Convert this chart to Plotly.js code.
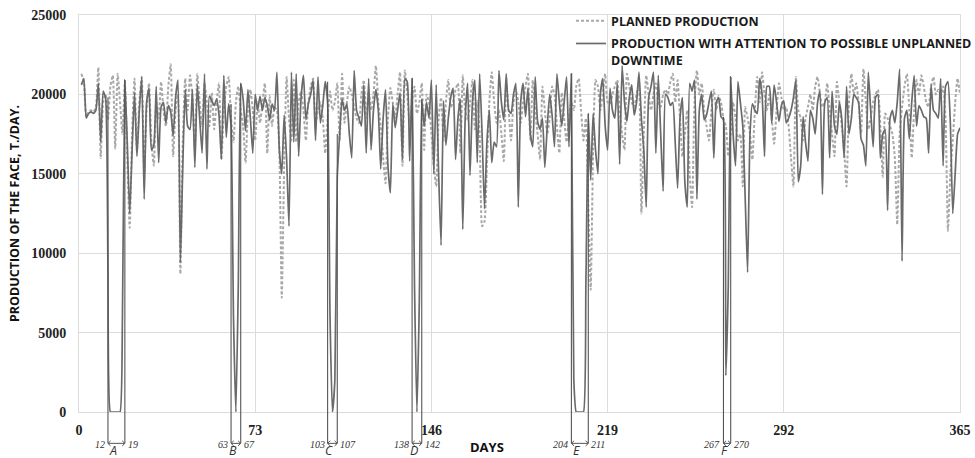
<!DOCTYPE html>
<html><head><meta charset="utf-8">
<script src="https://cdn.plot.ly/plotly-3.0.1.min.js"></script>
<style>html,body{margin:0;padding:0;background:#fff}#chart{width:975px;height:458px}</style>
</head><body><div id="chart"></div>
<script>
// Planned production, t/day, days 1..365
const plannedProduction = [
21300,20800,18600,18900,19000,18900,19200,21700,16000,19500,
20000,18400,20500,21200,16600,21300,19500,17500,20800,16000,
11600,17500,21000,16300,19500,21100,15000,19000,20700,17000,
15500,19500,18500,20800,19000,18000,20500,21900,16100,19000,
20000,8700,17000,21000,19000,21200,19800,16500,21300,19500,
18000,20700,19500,18000,20100,17800,19500,20700,15900,19000,
20500,21100,18500,17000,19500,20500,19000,18000,15700,19000,
20300,19000,17100,19500,18200,19500,20700,16300,19900,18000,
19200,19000,16500,7200,15500,21100,18500,17100,20900,17000,
19500,20200,19000,17100,19500,20500,21000,18200,19000,19500,
18500,16300,18500,20200,19000,19500,20700,17100,21300,18200,
19500,20500,20000,19200,18500,18200,20000,20900,18500,20200,
19000,20000,21800,19500,18000,16000,14400,18500,20400,19500,
18500,20000,21400,15500,21500,20000,18200,19500,20500,18800,
19500,20700,16500,20000,19500,17500,15500,14200,18500,19800,
17100,19500,20900,19200,19500,20300,20700,16300,21200,19000,
18400,19500,20900,17800,19600,17500,11700,12000,15500,19500,
21400,19500,18200,19000,17500,15800,20700,19000,17100,19500,
20300,19500,18200,19500,20500,21300,17100,20900,19000,17500,
15900,20500,19000,17500,18500,20500,20000,18000,16300,20100,
18500,17000,18500,19500,19000,20500,21000,19000,17100,18500,
13000,7700,16500,20900,20500,19000,20000,21300,19500,19400,
20000,20500,20900,19000,17500,16500,21300,20500,19500,19200,
20000,20700,12500,17500,21200,20000,19000,20000,20700,19500,
19200,20000,20300,20000,20800,21300,19500,20900,18500,16100,
17500,19000,15000,12900,19500,21500,20000,20700,19000,18000,
17100,19000,20300,19000,19900,19500,18500,18000,16100,17500,
19500,18500,17100,17500,14200,19200,18500,17500,15900,19000,
21100,19500,21400,20000,19000,20000,18500,16900,19000,20700,
19800,19000,19200,18000,16000,14200,21100,19000,18500,17100,
18500,19200,20000,19000,20500,21100,20000,19200,19500,20700,
19000,17500,16100,20800,19500,18000,16500,14200,19500,21300,
20000,20700,19500,17500,21600,19500,17800,18500,19500,20000,
20300,18000,14800,18800,18500,18000,17500,16000,11800,17500,
19200,20500,21300,19000,16000,19000,20900,20000,21200,20500,
19500,19200,20500,21100,20000,20300,20000,20500,18500,11400,
15000,17100,19500,21000,20000
];
// Production with attention to possible unplanned downtime, t/day, days 1..365
const actualProduction = [
20600,21000,18500,18800,18900,18800,19000,20700,17000,20200,
19800,9000,0,0,0,0,0,6000,20900,17000,
12500,16500,20100,16100,19000,21100,13400,19500,20400,16500,
16800,20500,15700,19200,19500,18200,19300,18900,17400,19800,
20900,9400,15500,20300,18000,17800,20300,15400,20600,18500,
16300,21300,15300,19900,19600,19300,19700,18700,15900,21200,
17300,19400,18000,6000,0,8000,20700,19700,17700,20300,
18500,16300,20000,19000,19900,19000,19800,19300,18400,19400,
19000,21400,16500,15000,18700,16000,11700,21400,17000,21300,
16100,19800,21200,18400,19400,20000,20900,17100,21100,18200,
19300,20800,19500,6000,0,2000,14800,17500,19700,19000,
19400,17500,16000,21500,19000,18500,18000,20600,16300,21000,
16500,19000,20300,19000,15300,18500,20300,15500,13800,19400,
17900,19000,20100,15900,21000,20800,15800,21000,8000,0,
7000,19700,18000,19500,18500,20900,15000,20600,15000,10500,
19600,16800,18500,19800,20400,15900,18500,19700,11500,18500,
20700,14900,19500,20900,15700,21300,17500,12800,17000,19000,
15700,17000,16700,21500,19500,18400,21300,19000,18800,20000,
20700,12900,19500,20700,18600,20400,17500,16700,21100,18300,
17800,18500,15400,18000,20000,18700,16700,21300,19500,18000,
19500,21100,16700,21300,2000,0,0,0,0,8000,
18800,14600,18800,16500,15000,20000,21000,18000,16500,20400,
19000,18500,20700,15600,21800,19500,18300,19800,20600,18700,
19500,21400,18500,16500,12900,19800,20500,21400,16300,21200,
17500,13900,20000,19800,19300,19500,17000,14100,18500,19800,
14500,12900,20700,20200,20900,13400,19000,20000,18400,18700,
19500,20200,16000,19500,19800,18600,18400,2300,8000,21100,
17500,15500,20800,19500,18000,13500,8800,17500,19400,19000,
18800,21000,20000,16100,20500,20500,18200,20600,19500,18300,
19300,19600,18200,18500,19000,19800,20900,14500,15500,18600,
17000,15800,19000,18500,17500,19500,20200,13700,19500,19800,
16000,20200,18000,17500,19500,18500,16000,20500,17500,18500,
20000,19800,19500,17200,16800,15500,21400,19000,16700,19800,
20000,16000,17500,17800,12700,18500,19000,18200,19500,21600,
9500,18500,19000,17200,19500,21200,18000,19300,19000,18600,
18500,16300,20600,19000,18800,18500,21000,15500,20500,20800,
18200,12500,15000,17500,17900
];
const xTickValues = [0, 73, 146, 219, 292, 365];
const downtimeStart = [12, 63, 103, 138, 204, 267];
const downtimeEnd = [19, 67, 107, 142, 211, 270];
const downtimeLetters = ['A', 'B', 'C', 'D', 'E', 'F'];

const yMax = 25000;
const bracketY = -0.079;
const letterY = -0.0965;
const bracketColor = '#555555';
const serif = 'Liberation Serif, Times New Roman, serif';
const sans = 'Open Sans, Liberation Sans, sans-serif';

const shapes = [];
const annotations = [];
downtimeStart.forEach(function (s, i) {
  const e = downtimeEnd[i];
  const topL = Math.max(actualProduction[s - 2], actualProduction[s - 1]) / yMax;
  const topR = Math.max(actualProduction[e - 1], actualProduction[e]) / yMax;
  const ln = {color: bracketColor, width: 1.1};
  shapes.push({type: 'line', xref: 'x', yref: 'paper', x0: s, x1: s, y0: topL, y1: bracketY, line: ln});
  shapes.push({type: 'line', xref: 'x', yref: 'paper', x0: e, x1: e, y0: topR, y1: bracketY, line: ln});
  shapes.push({type: 'line', xref: 'x', yref: 'paper', x0: s, x1: e, y0: bracketY, y1: bracketY, line: {color: bracketColor, width: 1}});
  const dx = 1.1, dy = 0.0065;
  shapes.push({type: 'path', xref: 'x', yref: 'paper',
    path: 'M ' + (s + dx) + ',' + (bracketY + dy) + ' L ' + s + ',' + bracketY + ' L ' + (s + dx) + ',' + (bracketY - dy),
    line: {color: bracketColor, width: 1}});
  shapes.push({type: 'path', xref: 'x', yref: 'paper',
    path: 'M ' + (e - dx) + ',' + (bracketY + dy) + ' L ' + e + ',' + bracketY + ' L ' + (e - dx) + ',' + (bracketY - dy),
    line: {color: bracketColor, width: 1}});
  annotations.push({xref: 'x', yref: 'paper', x: s, y: bracketY, text: String(s), showarrow: false,
    xanchor: 'right', yanchor: 'middle', xshift: -1, yshift: -1, font: {family: serif, size: 10, style: 'italic', color: '#333'}});
  annotations.push({xref: 'x', yref: 'paper', x: e, y: bracketY, text: String(e), showarrow: false,
    xanchor: 'left', yanchor: 'middle', xshift: 1, yshift: -1, font: {family: serif, size: 10, style: 'italic', color: '#333'}});
  annotations.push({xref: 'x', yref: 'paper', x: (s + e) / 2, y: letterY, text: downtimeLetters[i], showarrow: false,
    xanchor: 'center', yanchor: 'middle', xshift: -3, font: {family: sans, size: 12.5, style: 'italic', color: '#333'}});
});
annotations.push({xref: 'paper', yref: 'paper', x: 0.463, y: -0.089, text: 'DAYS', showarrow: false,
  xanchor: 'center', yanchor: 'middle', font: {family: sans, size: 13, weight: 700, color: '#111'}});

const traces = [
  {type: 'scatter', mode: 'lines', name: 'PLANNED PRODUCTION', legendgroup: 'p',
   x0: 1, dx: 1, y: plannedProduction,
   line: {color: '#a8a8a8', width: 2, dash: '3px,2px', shape: 'spline', smoothing: 0.5}},
  {type: 'scatter', mode: 'lines', name: 'PRODUCTION WITH ATTENTION TO POSSIBLE UNPLANNED<br>DOWNTIME', legendgroup: 'a',
   x0: 1, dx: 1, y: actualProduction,
   line: {color: '#6a6a6a', width: 1.7, shape: 'spline', smoothing: 0.5}}
];

const axisCommon = {
  showgrid: true, gridcolor: '#dcdcdc', gridwidth: 1, zeroline: false,
  showline: true, linecolor: '#dcdcdc', linewidth: 1, mirror: true,
  tickfont: {family: serif, size: 14, weight: 700, color: '#222'},
  tickcolor: 'rgba(0,0,0,0)'
};

const layout = {
  width: 975, height: 458,
  margin: {l: 79, r: 15, t: 15, b: 46, pad: 0, autoexpand: false},
  paper_bgcolor: '#ffffff', plot_bgcolor: '#ffffff',
  showlegend: true,
  legend: {x: 0.5585, y: 1.0224, xanchor: 'left', yanchor: 'top', bgcolor: 'rgba(0,0,0,0)',
    valign: 'top', tracegroupgap: 3.5, traceorder: 'grouped',
    font: {family: sans, size: 12.5, weight: 700, color: '#1a1a1a'}},
  xaxis: Object.assign({}, axisCommon, {range: [0, 365], tickmode: 'array', tickvals: xTickValues,
    ticks: 'outside', ticklen: 5}),
  yaxis: Object.assign({}, axisCommon, {range: [0, yMax], dtick: 5000, tick0: 0, tickformat: 'd',
    ticks: 'outside', ticklen: 9,
    title: {text: 'PRODUCTION OF THE FACE, T./DAY.', standoff: 8,
      font: {family: sans, size: 12.5, weight: 700, color: '#111'}}}),
  shapes: shapes,
  annotations: annotations
};

Plotly.newPlot('chart', traces, layout, {displayModeBar: false, staticPlot: true});
</script>
</body></html>
